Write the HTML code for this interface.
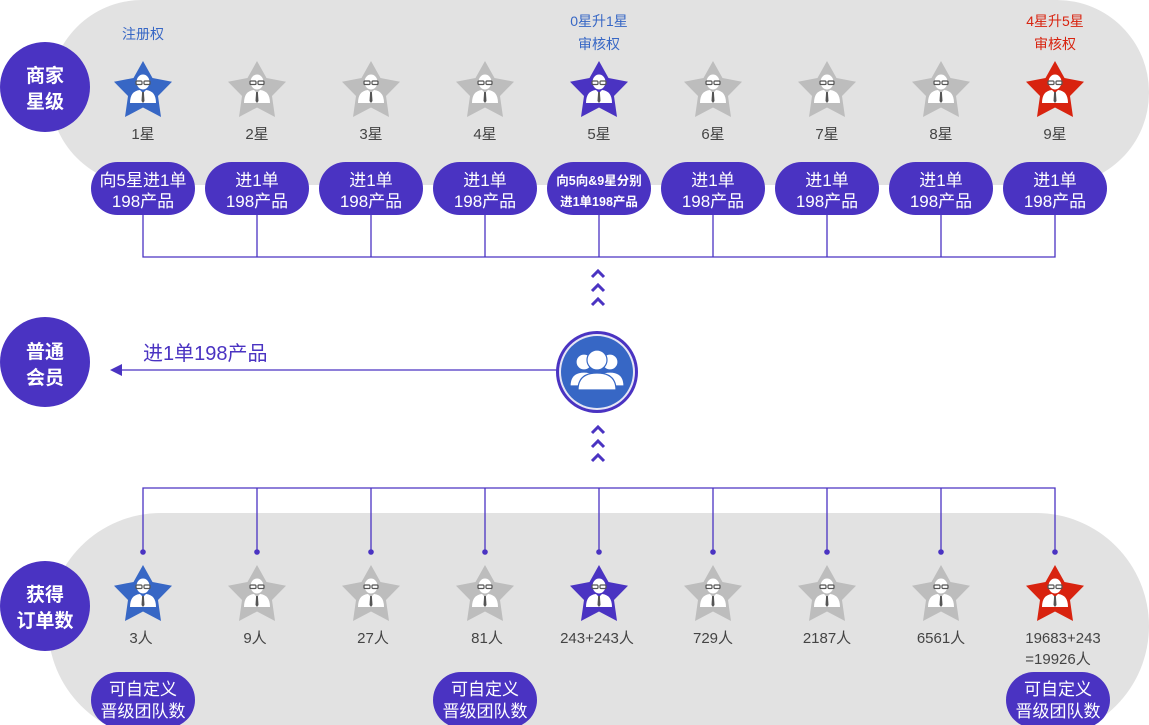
<!DOCTYPE html>
<html><head><meta charset="utf-8"><style>
html,body{margin:0;padding:0;background:#fff;}
svg{display:block;font-family:"Liberation Sans","Noto Sans CJK SC",sans-serif;}
</style></head><body>
<svg width="1149" height="725" viewBox="0 0 1149 725" xmlns="http://www.w3.org/2000/svg">
<defs>
 <g id="man">
  <ellipse cx="0" cy="-9" rx="6.5" ry="7.5" fill="#fff"/>
  <path d="M-13 12 Q-13 0 -3 -1 L0 2 L3 -1 Q13 0 13 12 Z" fill="#fff"/>
  <path d="M-0.9 1 L0.9 1 L1.5 10 L0 12 L-1.5 10 Z" fill="#555"/>
  <rect x="-7" y="-10" width="6" height="3.5" rx="1" fill="none" stroke="#555" stroke-width="1.2"/>
  <rect x="1" y="-10" width="6" height="3.5" rx="1" fill="none" stroke="#555" stroke-width="1.2"/>
 </g>
 <polygon id="starp" points="0,-30 9.5,-13 29,-9.3 15,5 18,26 0,16.5 -18,26 -15,5 -29,-9.3 -9.5,-13"/>
 <g id="sg"><use href="#starp" fill="#bdbdbd"/><use href="#man"/></g>
 <g id="sb"><use href="#starp" fill="#3767c5"/><use href="#man"/></g>
 <g id="sp"><use href="#starp" fill="#4a33c2"/><use href="#man"/></g>
 <g id="sr"><use href="#starp" fill="#d8230f"/><use href="#man"/></g>
 <polyline id="chev" points="-6,4 0,-2 6,4" fill="none" stroke="#4a33c2" stroke-width="3"/>
</defs>

<rect x="50" y="0" width="1099" height="185" rx="92" fill="#e2e2e2"/>
<rect x="48" y="513" width="1101" height="226" rx="113" fill="#e2e2e2"/>

<circle cx="45" cy="87" r="45" fill="#4a33c2"/>
<text x="45" y="82" font-size="19" font-weight="bold" fill="#fff" text-anchor="middle">商家</text>
<text x="45" y="108" font-size="19" font-weight="bold" fill="#fff" text-anchor="middle">星级</text>
<circle cx="45" cy="362" r="45" fill="#4a33c2"/>
<text x="45" y="358" font-size="19" font-weight="bold" fill="#fff" text-anchor="middle">普通</text>
<text x="45" y="384" font-size="19" font-weight="bold" fill="#fff" text-anchor="middle">会员</text>
<circle cx="45" cy="606" r="45" fill="#4a33c2"/>
<text x="45" y="601" font-size="19" font-weight="bold" fill="#fff" text-anchor="middle">获得</text>
<text x="45" y="627" font-size="19" font-weight="bold" fill="#fff" text-anchor="middle">订单数</text>

<g font-size="14" text-anchor="middle">
 <text x="143" y="39" fill="#3767c5">注册权</text>
 <text x="599" y="26" fill="#3767c5">0星升1星</text>
 <text x="599" y="49" fill="#3767c5">审核权</text>
 <text x="1055" y="26" fill="#d8230f">4星升5星</text>
 <text x="1055" y="49" fill="#d8230f">审核权</text>
</g>

<use href="#sb" x="143" y="91"/>
<use href="#sg" x="257" y="91"/>
<use href="#sg" x="371" y="91"/>
<use href="#sg" x="485" y="91"/>
<use href="#sp" x="599" y="91"/>
<use href="#sg" x="713" y="91"/>
<use href="#sg" x="827" y="91"/>
<use href="#sg" x="941" y="91"/>
<use href="#sr" x="1055" y="91"/>
<g font-size="15" fill="#444" text-anchor="middle">
 <text x="143" y="139">1星</text><text x="257" y="139">2星</text><text x="371" y="139">3星</text>
 <text x="485" y="139">4星</text><text x="599" y="139">5星</text><text x="713" y="139">6星</text>
 <text x="827" y="139">7星</text><text x="941" y="139">8星</text><text x="1055" y="139">9星</text>
</g>

<g stroke="#4a33c2" stroke-width="1.3" fill="none">
 <path d="M143 210 V257 H1055 V210"/>
 <path d="M257 210 V257 M371 210 V257 M485 210 V257 M599 210 V257 M713 210 V257 M827 210 V257 M941 210 V257"/>
</g>

<g fill="#4a33c2">
 <rect x="91" y="162" width="104" height="53" rx="26.5"/>
 <rect x="205" y="162" width="104" height="53" rx="26.5"/>
 <rect x="319" y="162" width="104" height="53" rx="26.5"/>
 <rect x="433" y="162" width="104" height="53" rx="26.5"/>
 <rect x="547" y="162" width="104" height="53" rx="26.5"/>
 <rect x="661" y="162" width="104" height="53" rx="26.5"/>
 <rect x="775" y="162" width="104" height="53" rx="26.5"/>
 <rect x="889" y="162" width="104" height="53" rx="26.5"/>
 <rect x="1003" y="162" width="104" height="53" rx="26.5"/>
</g>
<g font-size="17" fill="#fff" text-anchor="middle">
 <text x="143" y="186">向5星进1单</text><text x="143" y="207">198产品</text>
 <text x="257" y="186">进1单</text><text x="257" y="207">198产品</text>
 <text x="371" y="186">进1单</text><text x="371" y="207">198产品</text>
 <text x="485" y="186">进1单</text><text x="485" y="207">198产品</text>
 <text x="713" y="186">进1单</text><text x="713" y="207">198产品</text>
 <text x="827" y="186">进1单</text><text x="827" y="207">198产品</text>
 <text x="941" y="186">进1单</text><text x="941" y="207">198产品</text>
 <text x="1055" y="186">进1单</text><text x="1055" y="207">198产品</text>
 <text x="599" y="185" font-size="12.5" font-weight="bold">向5向&amp;9星分别</text>
 <text x="599" y="206" font-size="12.5" font-weight="bold">进1单198产品</text>
</g>

<use href="#chev" x="598" y="273"/><use href="#chev" x="598" y="287"/><use href="#chev" x="598" y="301"/>
<use href="#chev" x="598" y="429"/><use href="#chev" x="598" y="443"/><use href="#chev" x="598" y="457"/>

<line x1="120" y1="370" x2="558" y2="370" stroke="#4a33c2" stroke-width="1.3"/>
<polygon points="110,370 122,364 122,376" fill="#4a33c2"/>
<text x="143" y="360" font-size="20" fill="#4a33c2">进1单198产品</text>
<circle cx="597" cy="372" r="41" fill="#4a33c2"/>
<circle cx="597" cy="372" r="38" fill="#e6e6f5"/>
<circle cx="597" cy="372" r="36" fill="#3767c5"/>
<g fill="#fff" stroke="#3767c5" stroke-width="1.2">
 <circle cx="584" cy="362" r="8"/><path d="M570 386 Q570 372 584 372 Q598 372 598 386 Z"/>
 <circle cx="610" cy="362" r="8"/><path d="M596 386 Q596 372 610 372 Q624 372 624 386 Z"/>
 <circle cx="597" cy="360" r="10"/><path d="M578 390 Q578 373 597 373 Q616 373 616 390 Z"/>
</g>

<g stroke="#4a33c2" stroke-width="1.3" fill="none">
 <path d="M143 552 V488 H1055 V552"/>
 <path d="M257 488 V552 M371 488 V552 M485 488 V552 M599 488 V552 M713 488 V552 M827 488 V552 M941 488 V552"/>
</g>
<g fill="#4a33c2">
 <circle cx="143" cy="552" r="2.8"/><circle cx="257" cy="552" r="2.8"/><circle cx="371" cy="552" r="2.8"/>
 <circle cx="485" cy="552" r="2.8"/><circle cx="599" cy="552" r="2.8"/><circle cx="713" cy="552" r="2.8"/>
 <circle cx="827" cy="552" r="2.8"/><circle cx="941" cy="552" r="2.8"/><circle cx="1055" cy="552" r="2.8"/>
</g>

<use href="#sb" x="143" y="595"/>
<use href="#sg" x="257" y="595"/>
<use href="#sg" x="371" y="595"/>
<use href="#sg" x="485" y="595"/>
<use href="#sp" x="599" y="595"/>
<use href="#sg" x="713" y="595"/>
<use href="#sg" x="827" y="595"/>
<use href="#sg" x="941" y="595"/>
<use href="#sr" x="1055" y="595"/>
<g font-size="15" fill="#444" text-anchor="middle">
 <text x="141" y="643">3人</text><text x="255" y="643">9人</text><text x="373" y="643">27人</text>
 <text x="487" y="643">81人</text><text x="597" y="643">243+243人</text><text x="713" y="643">729人</text>
 <text x="827" y="643">2187人</text><text x="941" y="643">6561人</text>
 <text x="1063" y="643">19683+243</text><text x="1058" y="664">=19926人</text>
</g>

<g fill="#4a33c2">
 <rect x="91" y="672" width="104" height="56" rx="28"/>
 <rect x="433" y="672" width="104" height="56" rx="28"/>
 <rect x="1006" y="672" width="104" height="56" rx="28"/>
</g>
<g font-size="17" fill="#fff" text-anchor="middle">
 <text x="143" y="695">可自定义</text><text x="143" y="717">晋级团队数</text>
 <text x="485" y="695">可自定义</text><text x="485" y="717">晋级团队数</text>
 <text x="1058" y="695">可自定义</text><text x="1058" y="717">晋级团队数</text>
</g>
</svg>
</body></html>
